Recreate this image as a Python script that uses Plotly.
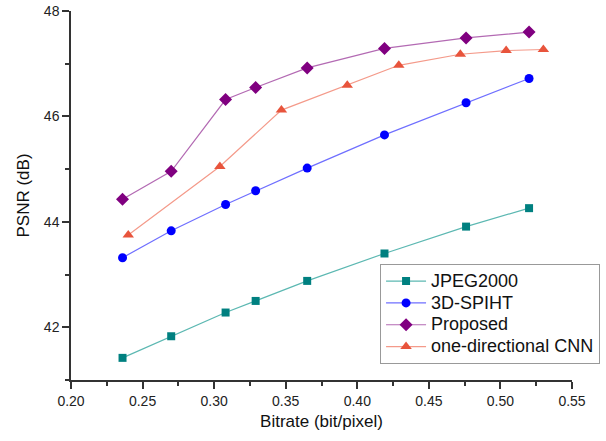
import plotly.graph_objects as go

# Data
jpeg_x = [0.236, 0.270, 0.308, 0.329, 0.365, 0.419, 0.476, 0.520]
jpeg_y = [41.42, 41.83, 42.28, 42.50, 42.88, 43.40, 43.91, 44.26]

spiht_x = [0.236, 0.270, 0.308, 0.329, 0.365, 0.419, 0.476, 0.520]
spiht_y = [43.32, 43.83, 44.33, 44.59, 45.02, 45.65, 46.26, 46.72]

prop_x = [0.236, 0.270, 0.308, 0.329, 0.365, 0.419, 0.476, 0.520]
prop_y = [44.43, 44.96, 46.32, 46.55, 46.92, 47.29, 47.49, 47.60]

cnn_x = [0.240, 0.304, 0.347, 0.393, 0.429, 0.472, 0.504, 0.530]
cnn_y = [43.75, 45.05, 46.12, 46.59, 46.97, 47.18, 47.25, 47.27]

x_ticks = [0.20, 0.25, 0.30, 0.35, 0.40, 0.45, 0.50, 0.55]
y_ticks = [42, 44, 46, 48]

series = [
    ("JPEG2000", jpeg_x, jpeg_y, "#008080", "#5cb8b2", "square", 8),
    ("3D-SPIHT", spiht_x, spiht_y, "#0000ff", "#6f6fff", "circle", 9),
    ("Proposed", prop_x, prop_y, "#800080", "#b36ab3", "diamond", 10),
    ("one-directional CNN", cnn_x, cnn_y, "#e8543c", "#f49a8a", "triangle-up", 10),
]

fig = go.Figure()
for name, xs, ys, mc, lc, sym, sz in series:
    fig.add_trace(go.Scatter(
        x=xs, y=ys, name=f"<span style='font-size:18px'>{name}</span>", mode="lines+markers",
        line=dict(color=lc, width=1.2),
        marker=dict(color=mc, symbol=sym, size=sz, line=dict(width=0)),
    ))

FONT = "Liberation Sans, Arial"
axis_common = dict(
    showgrid=False, zeroline=False, showline=True, linecolor="#333333", linewidth=1.5,
    ticks="outside", ticklen=7, tickwidth=1.5, tickcolor="#333333",
    tickfont=dict(family=FONT, size=14, color="#222222"),
    mirror=False, automargin=False,
)

fig.update_layout(
    width=606, height=441,
    margin=dict(l=71, r=34, t=11, b=61, autoexpand=False),
    paper_bgcolor="white", plot_bgcolor="white",
    showlegend=True,
    legend=dict(
        x=1.056, y=0.043, xanchor="right", yanchor="bottom",
        bgcolor="white", bordercolor="#999999", borderwidth=1,
        font=dict(family=FONT, size=14.5, color="#111111"),
        tracegroupgap=0, itemwidth=40,
    ),
    xaxis=dict(
        range=[0.20, 0.55], tickvals=x_ticks, ticktext=[f"{v:.2f}" for v in x_ticks],
        minor=dict(ticks="outside", ticklen=4, tickwidth=1.5, tickcolor="#333333", dtick=0.025, tick0=0.2),
        title=dict(text="Bitrate (bit/pixel)", font=dict(family=FONT, size=17, color="#111111"), standoff=8),
        **axis_common,
    ),
    yaxis=dict(
        range=[41, 48], tickvals=y_ticks, ticktext=[str(v) for v in y_ticks],
        minor=dict(ticks="outside", ticklen=4, tickwidth=1.5, tickcolor="#333333", dtick=1, tick0=41),
        title=dict(text="PSNR (dB)", font=dict(family=FONT, size=17, color="#111111"), standoff=10),
        **axis_common,
    ),
)

fig.write_html("out.html", config={"displayModeBar": False},
               post_script="document.body.style.margin='0px';")
